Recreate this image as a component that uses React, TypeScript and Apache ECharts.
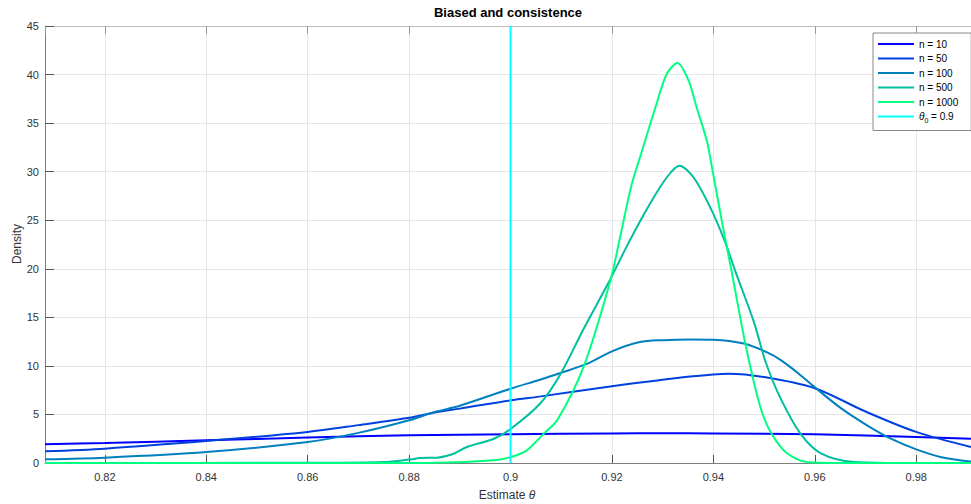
import { useEffect, useRef } from "react";
import * as echarts from "echarts";

const FONT = "'Liberation Sans', Arial, Helvetica, sans-serif";

// Kernel density estimates of the estimator for growing sample sizes
const seriesNames = ["n = 10", "n = 50", "n = 100", "n = 500", "n = 1000"];
const seriesColors = ["#0000ff", "#0040df", "#0080bf", "#00bf9f", "#00ff80"];

const n10X = [0.8082, 0.82, 0.84, 0.86, 0.88, 0.9, 0.92, 0.93, 0.94, 0.96, 0.98, 0.9908];
const n10Y = [1.92, 2.06, 2.33, 2.62, 2.85, 2.96, 3.05, 3.07, 3.05, 2.95, 2.68, 2.5];

const n50X = [0.8082, 0.82, 0.84, 0.86, 0.87, 0.88, 0.885, 0.89, 0.9, 0.906, 0.92, 0.9354, 0.943, 0.95, 0.96, 0.97, 0.98, 0.9908];
const n50Y = [1.2, 1.48, 2.26, 3.2, 3.9, 4.65, 5.2, 5.6, 6.45, 6.86, 7.9, 8.9, 9.2, 8.85, 7.7, 5.3, 3.2, 1.65];

const n100X = [0.8082, 0.82, 0.84, 0.86, 0.87, 0.88, 0.885, 0.89, 0.9, 0.9058, 0.91, 0.915, 0.92, 0.9255, 0.93, 0.9354, 0.94, 0.946, 0.9506, 0.9533, 0.9566, 0.96, 0.965, 0.9703, 0.975, 0.98, 0.985, 0.9908];
const n100Y = [0.38, 0.55, 1.13, 2.16, 3.1, 4.4, 5.25, 5.9, 7.65, 8.58, 9.3, 10.2, 11.5, 12.45, 12.65, 12.73, 12.7, 12.3, 11.4, 10.6, 9.3, 7.8, 5.7, 3.88, 2.5, 1.4, 0.6, 0.15];

const n500X = [0.8082, 0.86, 0.875, 0.88, 0.8822, 0.8855, 0.8885, 0.8914, 0.8967, 0.9, 0.9058, 0.9099, 0.9144, 0.9192, 0.9235, 0.9275, 0.9308, 0.9333, 0.9361, 0.9394, 0.9422, 0.9445, 0.948, 0.9503, 0.9533, 0.9572, 0.9612, 0.9678, 0.975, 0.9908];
const n500Y = [0, 0.02, 0.1, 0.35, 0.51, 0.55, 0.9, 1.65, 2.5, 3.5, 6.1, 9.2, 13.8, 18.45, 22.9, 26.7, 29.4, 30.6, 29.4, 26.3, 22.9, 19.5, 14.5, 10.4, 6.6, 3.0, 1.0, 0.1, 0.01, 0];

const n1000X = [0.8082, 0.88, 0.885, 0.8967, 0.9, 0.9032, 0.9065, 0.9092, 0.9144, 0.9197, 0.9215, 0.9239, 0.9259, 0.9288, 0.9308, 0.9329, 0.9351, 0.9367, 0.9387, 0.9397, 0.941, 0.942, 0.9435, 0.9461, 0.948, 0.9496, 0.9516, 0.9545, 0.9586, 0.965, 0.9908];
const n1000Y = [0, 0.01, 0.02, 0.28, 0.6, 1.3, 3.0, 4.4, 9.9, 18.8, 23.0, 28.7, 32.1, 37.0, 40.05, 41.2, 39.4, 36.6, 33.2, 30.5, 26.8, 24.0, 20.0, 12.8, 8.3, 5.2, 2.9, 1.0, 0.08, 0, 0];

const seriesX = [n10X, n50X, n100X, n500X, n1000X];
const seriesY = [n10Y, n50Y, n100Y, n500Y, n1000Y];

// True parameter value
const theta0 = 0.9;
const thetaName = "θ0 = 0.9";
const thetaColor = "#00ffff";

// Axis ranges
const xMin = 0.8082;
const xMax = 0.9908;
const yMin = 0;
const yMax = 45;
const yStep = 5;

const zip = (xs: number[], ys: number[]) => xs.map((x, i) => [x, ys[i]]);

export default function App() {
  const ref = useRef<HTMLDivElement>(null);

  useEffect(() => {
    const chart = echarts.init(ref.current!, null, { renderer: "svg" });

    const curves = seriesNames.map((name, i) => ({
      name,
      type: "line",
      data: zip(seriesX[i], seriesY[i]),
      xAxisIndex: 0,
      yAxisIndex: 0,
      symbol: "none",
      showSymbol: false,
      smooth: 0.3,
      clip: false,
      z: 3 + i,
      lineStyle: { width: 2, color: seriesColors[i] },
      itemStyle: { color: seriesColors[i] },
    }));

    const thetaLine = {
      name: thetaName,
      type: "line",
      data: [
        [theta0, yMin],
        [theta0, yMax],
      ],
      xAxisIndex: 0,
      yAxisIndex: 0,
      symbol: "none",
      showSymbol: false,
      clip: false,
      z: 10,
      lineStyle: { width: 2, color: thetaColor },
      itemStyle: { color: thetaColor },
    };

    const fmt = (v: number) => String(parseFloat(v.toFixed(4)));

    chart.setOption({
      animation: false,
      backgroundColor: "#ffffff",
      textStyle: { fontFamily: FONT },
      grid: { left: 45, right: 0, top: 26, bottom: 41, containLabel: false },
      xAxis: [
        {
          type: "value",
          position: "bottom",
          min: xMin,
          max: xMax,
          splitNumber: 9,
          axisLine: { show: true, onZero: false, lineStyle: { color: "#7f7f7f", width: 1 } },
          axisTick: { show: true, inside: true, length: 8, lineStyle: { color: "#555555" } },
          axisLabel: {
            color: "#333333",
            fontSize: 11,
            fontFamily: FONT,
            margin: 8,
            showMinLabel: false,
            showMaxLabel: false,
            formatter: fmt,
          },
          splitLine: { show: true, lineStyle: { color: "#e6e6e6", width: 1 } },
        },
        {
          type: "value",
          position: "top",
          min: xMin,
          max: xMax,
          splitNumber: 9,
          axisLine: { show: true, onZero: false, lineStyle: { color: "#bdbdbd", width: 1 } },
          axisTick: { show: true, inside: true, length: 8, lineStyle: { color: "#999999" } },
          axisLabel: { show: false },
          splitLine: { show: false },
        },
      ],
      yAxis: {
        type: "value",
        min: yMin,
        max: yMax,
        interval: yStep,
        axisLine: { show: true, onZero: false, lineStyle: { color: "#7f7f7f", width: 1 } },
        axisTick: { show: true, inside: true, length: 9, lineStyle: { color: "#555555" } },
        axisLabel: { color: "#333333", fontSize: 11, fontFamily: FONT, margin: 6 },
        splitLine: { show: true, lineStyle: { color: "#e6e6e6", width: 1 } },
      },
      legend: {
        data: [...seriesNames, thetaName],
        orient: "vertical",
        left: 873,
        top: 33,
        icon: "rect",
        itemWidth: 36,
        itemHeight: 2,
        itemGap: 2.5,
        padding: [5, 13, 7, 5],
        borderColor: "#888888",
        borderWidth: 1,
        backgroundColor: "#ffffff",
        selectedMode: false,
        formatter: (name: string) =>
          name === thetaName ? "{t|θ}{s|0}{r| = 0.9}" : name,
        textStyle: {
          fontFamily: FONT,
          fontSize: 10,
          lineHeight: 12,
          color: "#000000",
          rich: {
            t: { fontFamily: FONT, fontSize: 10, fontStyle: "italic", color: "#000000" },
            s: { fontFamily: FONT, fontSize: 7, color: "#000000", padding: [7, 0, 0, 0] },
            r: { fontFamily: FONT, fontSize: 10, color: "#000000" },
          },
        },
      },
      graphic: [
        {
          type: "text",
          x: 508,
          y: 12,
          style: {
            text: "Biased and consistence",
            fontFamily: FONT,
            fontSize: 13,
            fontWeight: "bold",
            fill: "#000000",
            align: "center",
            verticalAlign: "middle",
          },
        },
        {
          type: "text",
          x: 507,
          y: 495,
          style: {
            text: "{a|Estimate }{b|θ}",
            align: "center",
            verticalAlign: "middle",
            rich: {
              a: { fontFamily: FONT, fontSize: 12, fill: "#333333" },
              b: { fontFamily: FONT, fontSize: 12, fontStyle: "italic", fill: "#333333" },
            },
          },
        },
        {
          type: "text",
          x: 17,
          y: 244,
          rotation: Math.PI / 2,
          style: {
            text: "Density",
            fontFamily: FONT,
            fontSize: 12,
            fill: "#333333",
            align: "center",
            verticalAlign: "middle",
          },
        },
      ],
      series: [...curves, thetaLine],
    });

    return () => chart.dispose();
  }, []);

  return (
    <div
      ref={ref}
      style={{ position: "fixed", left: 0, top: 0, width: 971, height: 504 }}
    />
  );
}
